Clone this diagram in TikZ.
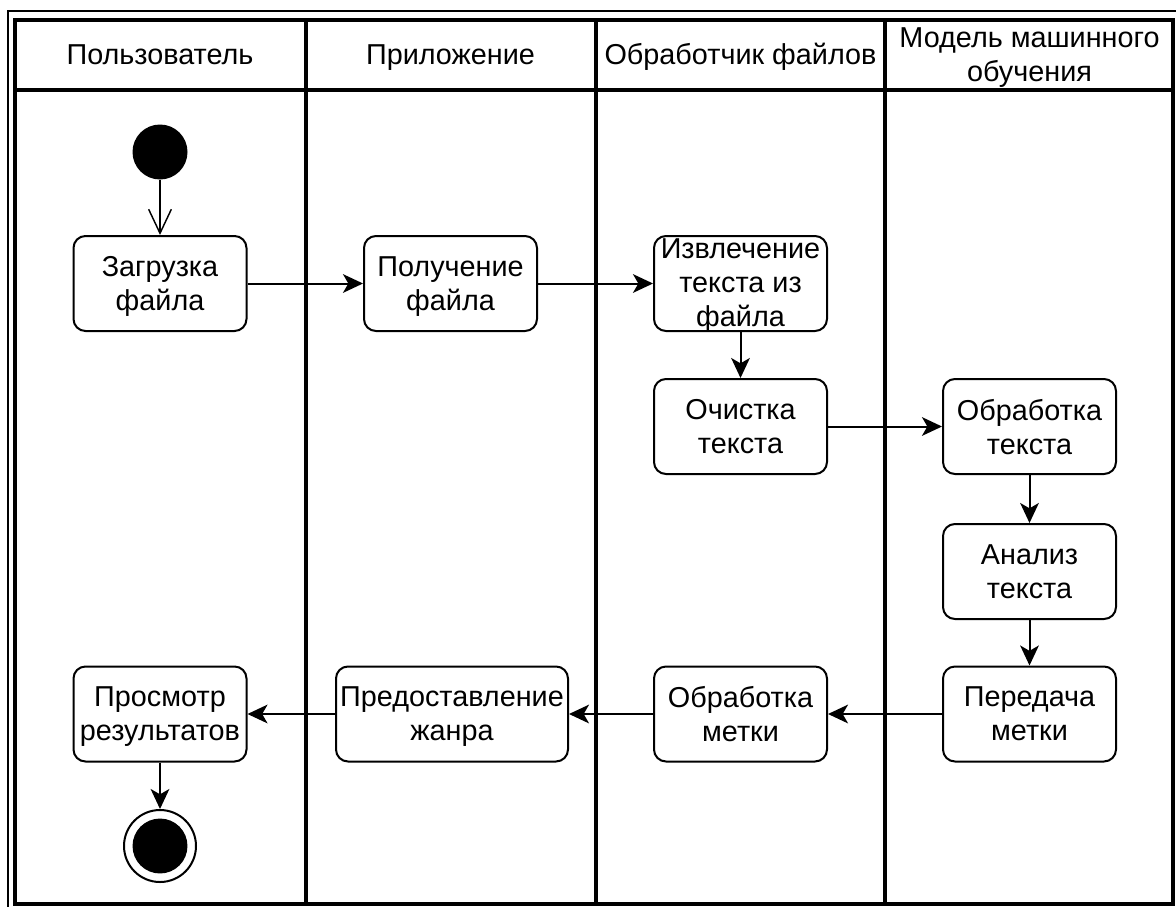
\documentclass[tikz,border=0pt]{standalone}
\usepackage{fontspec}
\setmainfont{Liberation Sans}
\usetikzlibrary{arrows.meta,positioning}

\begin{document}
\begin{tikzpicture}[
  x=0.75pt, y=-0.75pt,
  action/.style={rectangle, draw=black, fill=white, line width=1.5pt, rounded corners=9pt, minimum width=129.75pt, minimum height=71.25pt, align=center, inner xsep=2pt, text depth=0pt, font=\fontsize{21.6}{25.5}\selectfont},
  lanehead/.style={align=center, text height=15.5pt, text depth=4.5pt, font=\fontsize{21.6}{25.5}\selectfont},
  lane/.style={line width=3pt},
  flow/.style={-{Stealth[length=15pt, width=14pt, inset=4pt]}, line width=1.5pt},
  startflow/.style={-{Straight Barb[length=18pt, width=17pt]}, line width=1.1pt},
  startdot/.style={circle, fill=black, minimum size=41.25pt, inner sep=0pt},
  enddot/.style={circle, draw=black, fill=white, line width=1.5pt, minimum size=54pt, inner sep=0pt,
    path picture={\fill[black] (path picture bounding box.center) circle (20.6pt);}}
]
\useasboundingbox (0,0) rectangle (1176,906);
\clip (0,0) rectangle (1176,906);

% frame and swimlanes
\draw[line width=1.5pt] (8,11) rectangle (1190,920);
\draw[lane, fill=white] (14.5,20.5) rectangle (1173,903.5);
\draw[lane] (14.5,90) -- (1173,90);
\draw[lane] (305.5,20.5) -- (305.5,903.5);
\draw[lane] (595.5,20.5) -- (595.5,903.5);
\draw[lane] (885,20.5) -- (885,903.5);

\node[lanehead] (user) at (160,56.7) {Пользователь};
\node[lanehead] (app) at (450.5,56.7) {Приложение};
\node[lanehead] (files) at (740.5,56.7) {Обработчик файлов};
\node[lanehead, text height=41pt] (model) at (1029.5,56.7) {Модель машинного\\обучения};

% actions
\node[startdot] (start) at (160,152) {};
\node[action] (upload) at (160,283.5) {Загрузка\\файла};
\node[action] (receive) at (450.5,283.5) {Получение\\файла};
\node[action, inner ysep=0pt, text depth=2pt] (extract) at (740.5,283.5) {Извлечение\\текста из\\файла};
\node[action] (clean) at (740.5,426.5) {Очистка\\текста};
\node[action] (process) at (1029.5,426.5) {Обработка\\текста};
\node[action, below=36pt of process] (analyze) {Анализ\\текста};
\node[action] (send) at (1029.5,714) {Передача\\метки};
\node[action] (labelproc) at (740.5,714) {Обработка\\метки};
\node[action, minimum width=174pt] (genre) at (452,714) {Предоставление\\жанра};
\node[action] (view) at (160,714) {Просмотр\\результатов};
\node[enddot] (finish) at (160,846) {};

\draw[startflow] (start) -- (upload);
\draw[flow] (upload) -- (receive);
\draw[flow] (receive) -- (extract);
\draw[flow] (extract) -- (clean);
\draw[flow] (clean) -- (process);
\draw[flow] (process) -- (analyze);
\draw[flow] (analyze) -- (send);
\draw[flow] (send) -- (labelproc);
\draw[flow] (labelproc) -- (genre);
\draw[flow] (genre) -- (view);
\draw[flow] (view) -- (finish);
\end{tikzpicture}
\end{document}
